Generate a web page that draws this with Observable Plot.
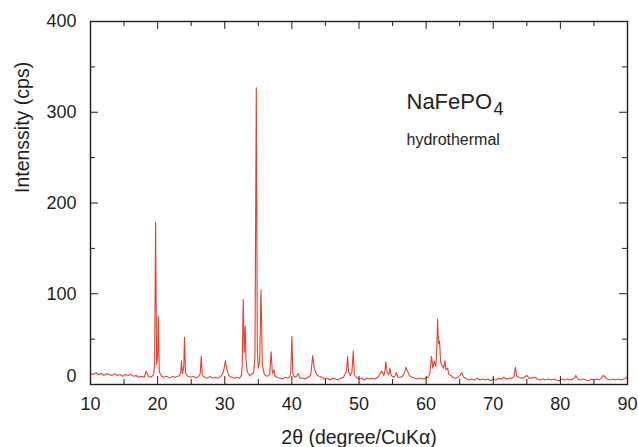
<!DOCTYPE html>
<html><head><meta charset="utf-8">
<script src="https://cdn.jsdelivr.net/npm/d3@7"></script>
<script src="https://cdn.jsdelivr.net/npm/@observablehq/plot@0.6"></script>
<style>body{margin:0;background:#fff}</style>
</head><body><div id="chart"></div>
<script>
const twoTheta = [
  10, 10.4, 10.8, 11.2, 11.6, 12, 12.4, 12.8, 13.2, 13.6, 14, 14.4, 14.8, 15.2, 15.6, 16, 16.4, 16.8, 17.2, 17.6, 18, 18.3, 18.6, 19, 19.4,
  19.55, 19.7, 19.85, 20.0, 20.1, 20.25, 20.6,
  21, 21.4, 21.8, 22.2, 22.6, 23, 23.3,
  23.45, 23.55, 23.7, 23.9, 24.0, 24.15, 24.5,
  24.9, 25.3, 25.7, 26.1, 26.35, 26.5, 26.65,
  27, 27.4, 27.8, 28.2, 28.6, 29, 29.4,
  29.7, 29.9, 30.1, 30.3, 30.6, 31,
  31.4, 31.8, 32.2, 32.5,
  32.6, 32.75, 32.9, 33.05, 33.15, 33.35, 33.7, 34.0, 34.3, 34.5, 34.7, 34.85, 35.0, 35.2, 35.4, 35.6, 35.9, 36.3, 36.7, 36.9, 37.1, 37.35, 37.5, 37.8,
  38.2, 38.6, 39.0, 39.4, 39.7,
  39.85, 40.0, 40.15, 40.4, 40.7, 40.95, 41.2,
  41.6, 42.0, 42.4, 42.8,
  42.95, 43.1, 43.3, 43.5, 43.8, 44.1, 44.5,
  44.9, 45.3, 45.7, 46.1, 46.5, 46.9, 47.3, 47.7, 47.95,
  48.15, 48.3, 48.45, 48.7, 48.95, 49.15, 49.3, 49.6,
  50, 50.4, 50.8, 51.2, 51.6, 52, 52.4, 52.8,
  53.1, 53.4, 53.7, 53.85, 54.0, 54.2, 54.45, 54.6, 54.8, 55.1, 55.35, 55.55, 55.8, 56.2, 56.6, 56.85, 57.0, 57.2, 57.5, 57.9,
  58.3, 58.7, 59.1, 59.5, 59.9, 60.3,
  60.55, 60.8, 61.0, 61.2, 61.45, 61.6, 61.7, 61.85, 62.0, 62.15, 62.3, 62.45, 62.6, 62.8, 62.95, 63.2, 63.4, 63.7, 64.0, 64.4, 64.8, 65.05, 65.3, 65.6,
  66.0, 66.4, 66.8, 67.2, 67.6, 68.0, 68.4, 68.8, 69.2, 69.6, 70.0, 70.4, 70.8, 71.2, 71.6, 72.0, 72.4, 72.8,
  73.1, 73.3, 73.5, 73.8, 74.2, 74.6, 75.0, 75.3, 75.7, 76.2, 76.6, 77.0, 77.4, 77.8, 78.2, 78.6, 79.0, 79.4, 79.8, 80.2, 80.6, 81.0, 81.4, 81.8, 82.1, 82.3, 82.6, 83.0, 83.4, 83.8, 84.2, 84.6, 85.0, 85.4, 85.8, 86.1, 86.4, 86.7, 87.0, 87.4, 87.8, 88.2, 88.6, 89.0, 89.4, 89.8, 90.0
];
const intensity = [
  12, 11, 13, 11, 12, 10, 12, 11, 10, 12, 10, 11, 9, 11, 10, 11, 9, 10, 8, 9, 8, 15, 9, 8, 11,
  20, 179, 22, 30, 75, 14, 9,
  8, 9, 7, 9, 8, 9, 10,
  14, 26, 12, 20, 52, 13, 9,
  8, 9, 7, 9, 12, 31, 10,
  8, 7, 9, 7, 8, 7, 9,
  12, 18, 26, 17, 10, 8,
  7, 8, 7, 10,
  22, 94, 35, 64, 30, 14, 10, 11, 13, 30, 327, 40, 18, 25, 104, 22, 11, 9, 11, 36, 12, 16, 9, 8,
  7, 6, 8, 7, 9,
  14, 53, 12, 8, 9, 12, 7,
  7, 6, 8, 10,
  20, 32, 20, 14, 10, 9, 8,
  6, 7, 5, 7, 6, 5, 7, 8, 12,
  15, 31, 14, 10, 14, 37, 11, 8,
  6, 7, 5, 7, 6, 7, 6, 8,
  11, 15, 10, 14, 25, 13, 11, 18, 10, 8, 9, 13, 8, 8, 10, 15, 19, 15, 10, 8,
  7, 6, 7, 6, 7, 8,
  12, 31, 18, 26, 20, 40, 72, 45, 48, 26, 22, 20, 18, 26, 16, 18, 11, 10, 8, 7, 8, 10, 13, 8,
  6, 5, 6, 5, 7, 5, 6, 5, 6, 4, 6, 5, 7, 6, 8, 6, 7, 7,
  9, 19, 9, 8, 7, 8, 10, 7, 7, 8, 6, 5, 6, 5, 6, 5, 6, 5, 4, 6, 5, 6, 5, 6, 7, 10, 6, 5, 6, 5, 4, 6, 5, 6, 5, 7, 10, 8, 6, 5, 6, 5, 6, 5, 6, 7, 9
];
const xTickLabels = [10, 20, 30, 40, 50, 60, 70, 80, 90];
const xMinorTicks = [15, 25, 35, 45, 55, 65, 75, 85];
const yTickLabels = [0, 100, 200, 300, 400];
const yMinorTicks = [50, 150, 250, 350];
const xTitle = "2θ (degree/CuKα)";
const yTitle = "Intenssity (cps)";
const compound = "NaFePO";
const compoundSub = "4";
const method = "hydrothermal";

const pattern = twoTheta.map((t, i) => ({t, c: intensity[i]}));
const ink = "#231f20";
const majorLen = 8, minorLen = 5;

const tickMarks = (vals, len) => [
  Plot.ruleX(vals, {x: d => d, y1: 0, y2: 0, insetBottom: len, stroke: ink, strokeWidth: 1}),
  Plot.ruleX(vals, {x: d => d, y1: 400, y2: 400, insetTop: len, stroke: ink, strokeWidth: 1})
];
const tickMarksY = (vals, len) => [
  Plot.ruleY(vals, {y: d => d, x1: 10, x2: 10, insetLeft: len, stroke: ink, strokeWidth: 1}),
  Plot.ruleY(vals, {y: d => d, x1: 90, x2: 90, insetRight: len, stroke: ink, strokeWidth: 1})
];

const chart = Plot.plot({
  width: 638,
  height: 447,
  marginLeft: 90,
  marginRight: 11,
  marginTop: 21,
  marginBottom: 63,
  style: {fontFamily: "'Liberation Sans', Arial, Helvetica, sans-serif", background: "#fff", color: ink},
  x: {domain: [10, 90]},
  y: {domain: [0, 400]},
  marks: [
    Plot.line(pattern, {x: "t", y: "c", stroke: "#e8402a", strokeWidth: 1.1}),
    ...tickMarks(xTickLabels, majorLen),
    ...tickMarks(xMinorTicks, minorLen),
    ...tickMarksY(yTickLabels, majorLen),
    ...tickMarksY(yMinorTicks, minorLen),
    Plot.frame({stroke: ink, strokeWidth: 1.4}),
    Plot.axisX(xTickLabels, {tickSize: 0, tickPadding: 13, fontSize: 18, label: null, fill: ink}),
    Plot.axisY(yTickLabels.filter(v => v > 0), {tickSize: 0, tickPadding: 14, fontSize: 18, label: null, fill: ink}),
    Plot.axisY([0], {tickSize: 0, tickPadding: 14, fontSize: 18, label: null, fill: ink, dy: -8}),
    Plot.text([yTitle], {frameAnchor: "left", rotate: -90, dx: -68, dy: -10, fontSize: 19.5, fill: ink}),
    Plot.text([xTitle], {frameAnchor: "bottom", dy: 59, fontSize: 19.5, fill: ink}),
    Plot.text([compound], {frameAnchor: "top-left", textAnchor: "start", dx: 316, dy: 72, fontSize: 22, fill: ink}),
    Plot.text([compoundSub], {frameAnchor: "top-left", textAnchor: "start", dx: 403, dy: 81, fontSize: 18, fill: ink}),
    Plot.text([method], {frameAnchor: "top-left", textAnchor: "start", dx: 316, dy: 112, fontSize: 16, fill: ink})
  ]
});
document.getElementById("chart").appendChild(chart);
</script>
</body></html>
